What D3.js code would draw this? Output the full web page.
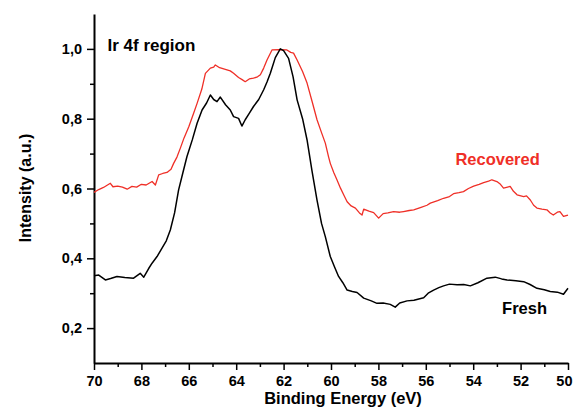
<!DOCTYPE html>
<html>
<head>
<meta charset="utf-8">
<script src="https://cdn.jsdelivr.net/npm/d3@7"></script>
<style>
    body { margin: 0; background: #fff; }
    svg text { font-family: Arial, "Liberation Sans", Helvetica, sans-serif; font-weight: bold; }
    .axis path, .axis line { stroke: #000; }
</style>
</head>
<body>
<div class="chart"></div>
<script>
// binding energy (eV), with intensity per series
const freshEnergy = [70.0, 69.8, 69.52, 69.3, 69.03, 68.7, 68.33, 68.05, 67.9, 67.7, 67.55, 67.34, 67.13, 66.95,
    66.78, 66.6, 66.43, 66.25, 66.08, 65.85, 65.65, 65.44, 65.25, 65.09, 64.95, 64.81, 64.67, 64.45, 64.25, 64.11,
    63.9, 63.76, 63.62, 63.45, 63.27, 63.05, 62.84, 62.7, 62.56, 62.35, 62.14, 62.0, 61.79, 61.6, 61.43, 61.2, 61.01,
    60.8, 60.59, 60.4, 60.24, 60.03, 59.85, 59.68, 59.5, 59.32, 59.1, 58.9, 58.62, 58.3, 58.06, 57.8, 57.5, 57.29,
    57.1, 56.79, 56.5, 56.09, 55.9, 55.67, 55.45, 55.25, 55.0, 54.68, 54.4, 54.12, 53.8, 53.42, 53.07, 52.8, 52.57,
    52.2, 51.87, 51.6, 51.31, 51.0, 50.75, 50.45, 50.19, 50.0];
const freshValues = [0.350, 0.352, 0.338, 0.342, 0.348, 0.345, 0.343, 0.357, 0.346, 0.370, 0.386, 0.405, 0.429, 0.450,
    0.481, 0.530, 0.596, 0.645, 0.691, 0.740, 0.787, 0.825, 0.845, 0.868, 0.855, 0.849, 0.862, 0.840, 0.825, 0.806,
    0.801, 0.779, 0.797, 0.815, 0.835, 0.855, 0.883, 0.905, 0.930, 0.975, 1.000, 0.995, 0.973, 0.920, 0.854, 0.800, 0.739,
    0.650, 0.567, 0.500, 0.462, 0.405, 0.375, 0.348, 0.330, 0.309, 0.305, 0.302, 0.286, 0.278, 0.271, 0.272, 0.268, 0.260,
    0.272, 0.278, 0.280, 0.287, 0.300, 0.309, 0.316, 0.321, 0.326, 0.324, 0.325, 0.321, 0.330, 0.343, 0.346, 0.341, 0.338,
    0.336, 0.333, 0.325, 0.314, 0.310, 0.305, 0.303, 0.297, 0.314];

const recoveredEnergy = [70.0, 69.8, 69.6, 69.31, 69.2, 69.0, 68.8, 68.6, 68.4, 68.2, 68.0, 67.8, 67.55, 67.41, 67.27,
    67.1, 66.92, 66.75, 66.64, 66.5, 66.36, 66.2, 66.0, 65.8, 65.65, 65.45, 65.3, 65.09, 64.95, 64.88, 64.7, 64.39,
    64.25, 64.11, 63.9, 63.75, 63.62, 63.45, 63.27, 63.1, 62.98, 62.84, 62.7, 62.49, 62.2, 61.86, 61.7, 61.58, 61.43,
    61.2, 61.01, 60.8, 60.59, 60.4, 60.24, 60.1, 60.03, 59.88, 59.75, 59.6, 59.45, 59.32, 59.15, 58.97, 58.8, 58.69,
    58.62, 58.4, 58.2, 57.99, 57.8, 57.6, 57.36, 57.1, 56.94, 56.7, 56.51, 56.2, 55.95, 55.81, 55.5, 55.25, 55.0, 54.83,
    54.6, 54.41, 54.2, 53.98, 53.75, 53.56, 53.35, 53.21, 53.0, 52.85, 52.72, 52.55, 52.44, 52.3, 52.15, 51.87, 51.75,
    51.59, 51.45, 51.31, 51.1, 50.89, 50.75, 50.62, 50.45, 50.34, 50.19, 50.0];
const recoveredValues = [0.589, 0.597, 0.603, 0.615, 0.605, 0.607, 0.604, 0.598, 0.606, 0.604, 0.612, 0.610, 0.620, 0.610, 0.639,
    0.643, 0.646, 0.655, 0.672, 0.690, 0.715, 0.745, 0.777, 0.815, 0.844, 0.885, 0.930, 0.945, 0.948, 0.954, 0.946, 0.940,
    0.937, 0.930, 0.918, 0.912, 0.906, 0.914, 0.916, 0.920, 0.926, 0.945, 0.968, 0.997, 0.998, 0.997, 0.990, 0.988, 0.968,
    0.935, 0.902, 0.850, 0.797, 0.760, 0.730, 0.690, 0.672, 0.645, 0.625, 0.601, 0.580, 0.562, 0.550, 0.544, 0.530, 0.524,
    0.541, 0.535, 0.531, 0.515, 0.528, 0.530, 0.534, 0.532, 0.534, 0.537, 0.539, 0.546, 0.552, 0.558, 0.565, 0.572, 0.577, 0.585,
    0.588, 0.591, 0.600, 0.607, 0.612, 0.617, 0.621, 0.625, 0.620, 0.612, 0.601, 0.604, 0.606, 0.592, 0.582, 0.577, 0.579,
    0.567, 0.552, 0.544, 0.541, 0.539, 0.530, 0.524, 0.532, 0.534, 0.520, 0.524];

const xTicks = [70, 68, 66, 64, 62, 60, 58, 56, 54, 52, 50];
const yTicks = [0.2, 0.4, 0.6, 0.8, 1.0];

let width = 573, height = 409;
let margin = {top: 14, right: 5, bottom: 46, left: 94};

let svg = d3.select(".chart").append("svg")
    .attr("width", width)
    .attr("height", height);

// reversed energy axis, like the spectrometer output
let xScale = d3.scaleLinear()
    .domain([70, 50])
    .range([margin.left, width - margin.right]);

let yScale = d3.scaleLinear()
    .domain([0.1, 1.1])
    .range([height - margin.bottom, margin.top]);

let fmt = d => d3.format(".1f")(d).replace(".", ",");

// minor ticks first, then labelled ones
svg.append("g")
    .attr("class", "axis")
    .attr("transform", "translate(0," + (height - margin.bottom) + ")")
    .call(d3.axisBottom(xScale).tickValues(d3.range(69, 50, -2)).tickSize(4).tickFormat(""))
    .call(g => g.select(".domain").remove())
    .selectAll("line").attr("stroke-width", 1.5);

svg.append("g")
    .attr("class", "axis")
    .attr("transform", "translate(" + margin.left + ",0)")
    .call(d3.axisLeft(yScale).tickValues([0.3, 0.5, 0.7, 0.9]).tickSize(4).tickFormat(""))
    .call(g => g.select(".domain").remove())
    .selectAll("line").attr("stroke-width", 1.5);

let xAxis = svg.append("g")
    .attr("class", "axis")
    .attr("transform", "translate(0," + (height - margin.bottom) + ")")
    .call(d3.axisBottom(xScale).tickValues(xTicks).tickSize(7).tickSizeOuter(0).tickPadding(6).tickFormat(d3.format("d")));
xAxis.select(".domain").attr("stroke-width", 2);
xAxis.selectAll("line").attr("stroke-width", 1.5);
xAxis.selectAll("text").style("font-size", "14.5px").attr("fill", "#000");
// last label sits at the window edge: keep it inside
xAxis.selectAll(".tick").filter(d => d === 50).select("text")
    .attr("text-anchor", "end")
    .attr("x", width - 1 - xScale(50));

let yAxis = svg.append("g")
    .attr("class", "axis")
    .attr("transform", "translate(" + margin.left + ",0)")
    .call(d3.axisLeft(yScale).tickValues(yTicks).tickSize(7).tickSizeOuter(0).tickPadding(5).tickFormat(fmt));
yAxis.select(".domain").attr("stroke-width", 2);
yAxis.selectAll("line").attr("stroke-width", 1.5);
yAxis.selectAll("text").style("font-size", "14.5px").attr("fill", "#000");

// spectra
let line = d3.line()
    .x(d => xScale(d[0]))
    .y(d => yScale(d[1]));

svg.append("path")
    .datum(d3.zip(recoveredEnergy, recoveredValues))
    .attr("d", line)
    .attr("fill", "none")
    .attr("stroke", "#ef2f27")
    .attr("stroke-width", 1.3)
    .attr("stroke-linejoin", "round");

svg.append("path")
    .datum(d3.zip(freshEnergy, freshValues))
    .attr("d", line)
    .attr("fill", "none")
    .attr("stroke", "#000")
    .attr("stroke-width", 1.5)
    .attr("stroke-linejoin", "round");

// labels
svg.append("text")
    .attr("x", xScale(69.43))
    .attr("y", yScale(0.995))
    .style("font-size", "17px")
    .text("Ir 4f region");

svg.append("text")
    .attr("x", xScale(54.75))
    .attr("y", yScale(0.668))
    .style("font-size", "16.5px")
    .attr("fill", "#ef2f27")
    .text("Recovered");

svg.append("text")
    .attr("x", xScale(52.78))
    .attr("y", yScale(0.241))
    .style("font-size", "16.5px")
    .text("Fresh");

// axis titles
svg.append("text")
    .attr("x", (margin.left + width - margin.right) / 2 + 12)
    .attr("y", 404)
    .attr("text-anchor", "middle")
    .style("font-size", "16.5px")
    .text("Binding Energy (eV)");

svg.append("text")
    .attr("transform", "translate(31,188) rotate(-90)")
    .attr("text-anchor", "middle")
    .style("font-size", "16px")
    .text("Intensity (a.u.)");
</script>
</body>
</html>
